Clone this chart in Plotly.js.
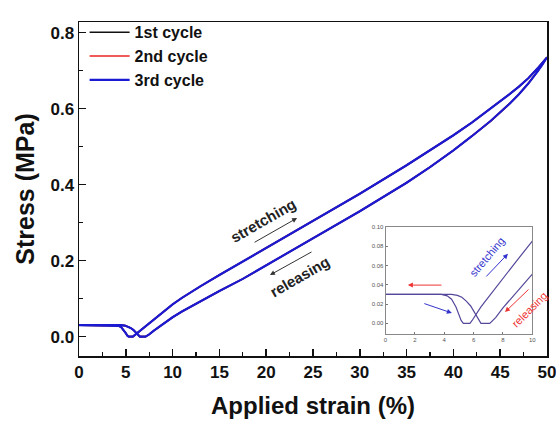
<!DOCTYPE html>
<html>
<head>
<meta charset="utf-8">
<script src="https://cdn.plot.ly/plotly-3.0.1.min.js"></script>
<style>html,body{margin:0;padding:0;background:#fff;}#chart{width:556px;height:424px;}</style>
</head>
<body>
<div id="chart"></div>
<script>
// ---- data ----
const cycleNames = ["1st cycle", "2nd cycle", "3rd cycle"];
const cycleColors = ["#111111", "#ee2222", "#1a1ad2"];

// stretching branch (strain %, stress MPa)
const stretchX = [0, 1, 2, 3, 3.8, 4.2, 4.5, 4.8, 5.0, 5.15, 5.3, 5.75, 5.9, 6.1, 6.5, 7, 8, 9, 10, 11, 12, 13, 15, 17.5, 20, 25, 30, 35, 38, 40, 42, 44, 46, 47, 48, 49, 50];
const stretchY = [0.030, 0.030, 0.030, 0.030, 0.030, 0.0285, 0.025, 0.017, 0.009, 0.003, 0.0, 0.0, 0.003, 0.008, 0.017, 0.027, 0.047, 0.066, 0.085, 0.102, 0.118, 0.133, 0.162, 0.198, 0.234, 0.304, 0.376, 0.451, 0.498, 0.530, 0.564, 0.600, 0.638, 0.658, 0.680, 0.706, 0.735];

// releasing branch (from 50 % back to 0 %)
const releaseX = [50, 49.5, 49, 48, 47, 46, 44, 42, 40, 37.5, 35, 30, 25, 20, 17.5, 15, 13, 12, 11, 10, 9, 8, 7.5, 7.1, 6.5, 6.35, 6.1, 5.8, 5.5, 5.2, 4.9, 4.5, 4, 2, 0];
const releaseY = [0.735, 0.716, 0.698, 0.666, 0.638, 0.613, 0.568, 0.528, 0.490, 0.446, 0.405, 0.330, 0.258, 0.186, 0.152, 0.120, 0.094, 0.081, 0.066, 0.051, 0.034, 0.016, 0.006, 0.0, 0.0, 0.004, 0.011, 0.018, 0.023, 0.027, 0.029, 0.030, 0.030, 0.030, 0.030];

const xTickVals = [0, 5, 10, 15, 20, 25, 30, 35, 40, 45, 50];
const yTickVals = [0.0, 0.2, 0.4, 0.6, 0.8];
const insetXTicks = [0, 2, 4, 6, 8, 10];
const insetYTicks = [0.00, 0.02, 0.04, 0.06, 0.08, 0.10];

// ---- build ----
const loopX = stretchX.concat(releaseX);
const loopY = stretchY.concat(releaseY);
const FONT = "Liberation Sans, Arial, sans-serif";
const cycleWidths = [1.6, 1.6, 2.2];

const traces = cycleNames.map((name, i) => ({
  x: loopX, y: loopY, name: name, type: "scatter", mode: "lines",
  line: {color: cycleColors[i], width: cycleWidths[i], shape: "linear"},
  xaxis: "x", yaxis: "y"
}));
traces.push({
  x: stretchX, y: stretchY, type: "scatter", mode: "lines", showlegend: false,
  line: {color: "#55489a", width: 1.2}, xaxis: "x2", yaxis: "y2"
});
traces.push({
  x: releaseX, y: releaseY, type: "scatter", mode: "lines", showlegend: false,
  line: {color: "#55489a", width: 1.2}, xaxis: "x2", yaxis: "y2"
});

function arrow(xref, yref, tx, ty, hx, hy, color, width) {
  return {xref: xref, yref: yref, axref: xref, ayref: yref, x: hx, y: hy, ax: tx, ay: ty,
    text: "", showarrow: true, arrowhead: 2, arrowsize: 1, arrowwidth: width, arrowcolor: color};
}
function label(xref, yref, x, y, text, angle, size, color, bold) {
  return {xref: xref, yref: yref, x: x, y: y, text: text, textangle: angle, showarrow: false,
    font: {family: FONT, size: size, color: color, weight: bold ? "bold" : "normal"}};
}

const annotations = [
  label("x", "y", 19.66, 0.305, "stretching", -30, 15, "#222", true),
  arrow("x", "y", 18.6, 0.246, 23.3, 0.312, "#333", 1),
  label("x", "y", 23.6, 0.157, "releasing", -30, 15, "#222", true),
  arrow("x", "y", 25.0, 0.225, 20.4, 0.162, "#333", 1),
  label("x2", "y2", 6.89, 0.069, "stretching", -50, 11, "#3333cc", false),
  arrow("x2", "y2", 6.77, 0.047, 8.34, 0.072, "#3333cc", 1),
  arrow("x2", "y2", 2.54, 0.021, 4.52, 0.0107, "#3333cc", 1),
  arrow("x2", "y2", 3.91, 0.0396, 1.52, 0.0396, "#ee3333", 1),
  label("x2", "y2", 9.84, 0.0148, "releasing", -45, 11, "#ee3333", false),
  arrow("x2", "y2", 9.84, 0.0365, 8.14, 0.0117, "#ee3333", 1)
];

const layout = {
  width: 556, height: 424,
  margin: {l: 79, r: 9, t: 22, b: 68},
  paper_bgcolor: "#fff", plot_bgcolor: "#fff",
  showlegend: true,
  legend: {x: 0.012, y: 1.02, xanchor: "left", yanchor: "top", bgcolor: "rgba(0,0,0,0)", itemwidth: 40,
    font: {family: FONT, size: 16, color: "#111", weight: "bold"}},
  xaxis: {
    domain: [0, 1], range: [0, 50], tickvals: xTickVals, ticks: "inside", ticklen: 7, tickwidth: 1.5,
    tickcolor: "#111", showline: true, linecolor: "#111", linewidth: 1.5, mirror: true,
    showgrid: false, zeroline: false, ticklabeloverflow: "allow",
    minor: {dtick: 2.5, ticks: "inside", ticklen: 4, tickwidth: 1.2, tickcolor: "#111", showgrid: false},
    tickfont: {family: FONT, size: 17, color: "#111", weight: "bold"},
    title: {text: "Applied strain (%)", font: {family: FONT, size: 24, color: "#111", weight: "bold"}, standoff: 16}
  },
  yaxis: {
    domain: [0, 1], range: [-0.051, 0.828], tickvals: yTickVals, tickformat: ".1f", ticks: "inside", ticklen: 7, tickwidth: 1.5,
    tickcolor: "#111", showline: true, linecolor: "#111", linewidth: 1.5, mirror: true,
    showgrid: false, zeroline: false, ticklabeloverflow: "allow",
    minor: {dtick: 0.1, ticks: "inside", ticklen: 4, tickwidth: 1.2, tickcolor: "#111", showgrid: false},
    tickfont: {family: FONT, size: 17, color: "#111", weight: "bold"},
    title: {text: "Stress (MPa)", font: {family: FONT, size: 25, color: "#111", weight: "bold"}, standoff: 8}
  },
  xaxis2: {
    domain: [0.655, 0.9686], anchor: "y2", range: [0, 10], tickvals: insetXTicks, ticks: "inside", ticklen: 2,
    tickcolor: "#777", showline: true, linecolor: "#888", linewidth: 1, mirror: true, showgrid: false, zeroline: false,
    tickfont: {family: FONT, size: 6, color: "#555"}
  },
  yaxis2: {
    domain: [0.0659, 0.387], anchor: "x2", range: [-0.011, 0.1], tickvals: insetYTicks, tickformat: ".2f", ticks: "inside", ticklen: 2,
    tickcolor: "#777", showline: true, linecolor: "#888", linewidth: 1, mirror: true, showgrid: false, zeroline: false,
    tickfont: {family: FONT, size: 6, color: "#555"}
  },
  annotations: annotations
};

Plotly.newPlot("chart", traces, layout, {staticPlot: true, displayModeBar: false});
</script>
</body>
</html>
